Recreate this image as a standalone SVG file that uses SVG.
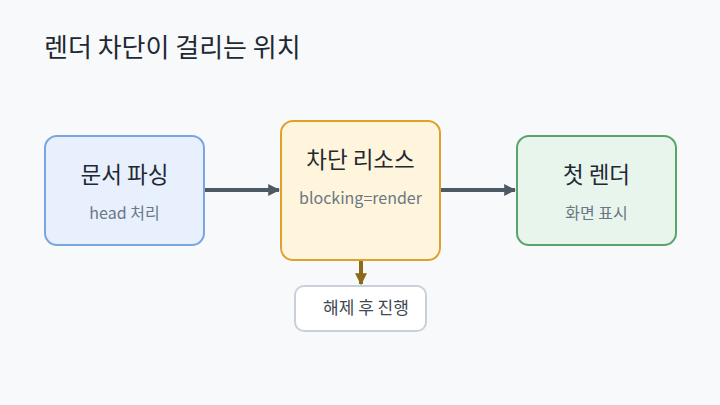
<svg xmlns="http://www.w3.org/2000/svg" width="720" height="405" viewBox="0 0 720 405">
<style>
text{font-family:"Noto Sans CJK KR","Noto Sans",sans-serif}
.t{font-size:22.5px;fill:#1f2933;text-anchor:middle}
.s{font-size:16px;fill:#6b7785;text-anchor:middle}
.e{stroke:#4d5a66;stroke-width:4;fill:none}
</style>
<defs>
<marker id="ag" viewBox="0 0 10 10" refX="9" refY="5" markerWidth="3" markerHeight="3" orient="auto" markerUnits="strokeWidth"><path d="M0,0L10,5L0,10z" fill="#4d5a66"/></marker>
<marker id="ab" viewBox="0 0 10 10" refX="9" refY="5" markerWidth="3" markerHeight="3" orient="auto" markerUnits="strokeWidth"><path d="M0,0L10,5L0,10z" fill="#8b6a1a"/></marker>
</defs>
<rect width="720" height="405" fill="#f8f9fa"/>
<text x="44" y="57" style="font-size:26px;fill:#1f2933">렌더 차단이 걸리는 위치</text>
<g id="connectors">
<path class="e" d="M204,190H279" marker-end="url(#ag)"/>
<path class="e" d="M440,190H515" marker-end="url(#ag)"/>
<path d="M361,260V284" stroke="#8b6a1a" stroke-width="4" fill="none" marker-end="url(#ab)"/>
</g>
<g id="parse">
<rect x="45" y="136" width="159" height="109" rx="12" fill="#e8f0fe" stroke="#7aa6e0" stroke-width="2"/>
<text class="t" x="124.5" y="183">문서 파싱</text>
<text class="s" x="124.5" y="219">head 처리</text>
</g>
<g id="block">
<rect x="281" y="121" width="159" height="139" rx="12" fill="#fff5dc" stroke="#e0a030" stroke-width="2"/>
<text class="t" x="360.5" y="168">차단 리소스</text>
<text class="s" x="360.5" y="204">blocking=render</text>
</g>
<g id="render">
<rect x="517" y="136" width="159" height="109" rx="12" fill="#e8f5ec" stroke="#5aa46c" stroke-width="2"/>
<text class="t" x="596.5" y="183">첫 렌더</text>
<text class="s" x="596.5" y="219">화면 표시</text>
</g>
<g id="release">
<rect x="295" y="286" width="131" height="45" rx="9" fill="#ffffff" stroke="#c8d0dc" stroke-width="2"/>
<text x="366" y="314" style="font-size:17px;fill:#3d4852;text-anchor:middle">해제 후 진행</text>
</g>
</svg>
